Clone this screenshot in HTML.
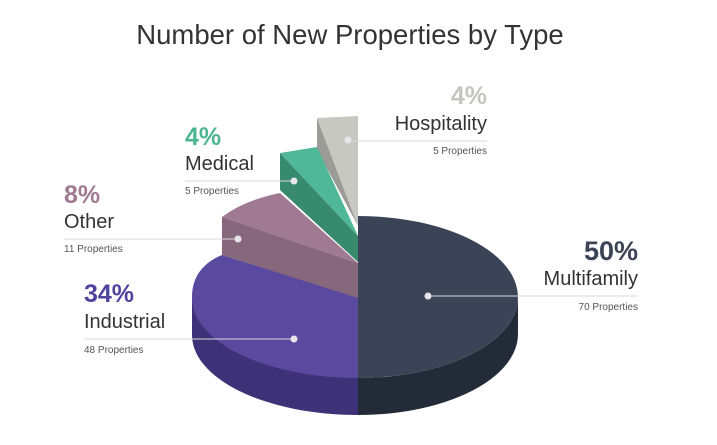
<!DOCTYPE html>
<html><head><meta charset="utf-8"><style>
html,body{margin:0;padding:0;background:#fff;}
svg{display:block;font-family:"Liberation Sans",sans-serif;}
</style></head><body>
<svg width="717" height="445" viewBox="0 0 717 445">
<text x="350" y="44" text-anchor="middle" font-size="27.5" fill="#333">Number of New Properties by Type</text>
<!-- industrial -->
<path d="M192,297 L192,334 A166,80 0 0,0 358,415 L358,378 Z" fill="#3d3278"/>
<path d="M358,297 L222,255 C205,262 192,275 192,297 A166,80 0 0,0 358,378 Z" fill="#5a4a9f"/>
<!-- multifamily -->
<path d="M518,297 L518,334 A160,81 0 0,1 358,415 L358,378 A160,81 0 0,0 518,297 Z" fill="#232a38"/>
<path d="M358,216 A160,81 0 0,1 358,378 Z" fill="#3a4456"/>
<!-- hospitality -->
<path d="M317,118 L317,150 L358,226 Z" fill="#9b9b97"/>
<path d="M317,118 L358,116 L358,226 Z" fill="#c8c8c2"/>
<!-- medical -->
<path d="M280,153 L280,190 L358,262 L358,236 Z" fill="#378a6d"/>
<path d="M280,153 L317,147 L358,236 Z" fill="#4fb897"/>
<!-- other -->
<path d="M222,217 L222,255 L358,298 L358,263 Z" fill="#86677c"/>
<path d="M222,217 Q245,200 280,193 L358,263 Z" fill="#a07a93"/>
<!-- lines -->
<g stroke="#d8d8d8" stroke-width="1">
<line x1="185" y1="181" x2="294" y2="181"/>
<line x1="64" y1="239" x2="238" y2="239"/>
<line x1="84" y1="339" x2="294" y2="339"/>
<line x1="348" y1="141" x2="487" y2="141"/>
<line x1="428" y1="296" x2="638" y2="296"/>
</g>
<g fill="#e6e6ea">
<circle cx="294" cy="181" r="3.5"/><circle cx="238" cy="239" r="3.5"/>
<circle cx="294" cy="339" r="3.5"/><circle cx="348" cy="140" r="3.5"/>
<circle cx="428" cy="296" r="3.5"/>
</g>
<g font-size="10" fill="#555">
<text x="185" y="194">5 Properties</text>
<text x="64" y="252">11 Properties</text>
<text x="84" y="353">48 Properties</text>
<text x="487" y="154" text-anchor="end">5 Properties</text>
<text x="638" y="310" text-anchor="end">70 Properties</text>
</g>
<g font-size="20" fill="#333">
<text x="185" y="170">Medical</text>
<text x="64" y="228">Other</text>
<text x="84" y="328">Industrial</text>
<text x="487" y="130" text-anchor="end">Hospitality</text>
<text x="638" y="285" text-anchor="end">Multifamily</text>
</g>
<g font-size="25" font-weight="bold">
<text x="185" y="145" fill="#4db592">4%</text>
<text x="64" y="203" fill="#a07a93">8%</text>
<text x="84" y="302" fill="#4e44a0">34%</text>
<text x="487" y="104" text-anchor="end" fill="#c4c4c0">4%</text>
<text x="638" y="260" text-anchor="end" fill="#3a4456" font-size="27">50%</text>
</g>
</svg>
</body></html>
